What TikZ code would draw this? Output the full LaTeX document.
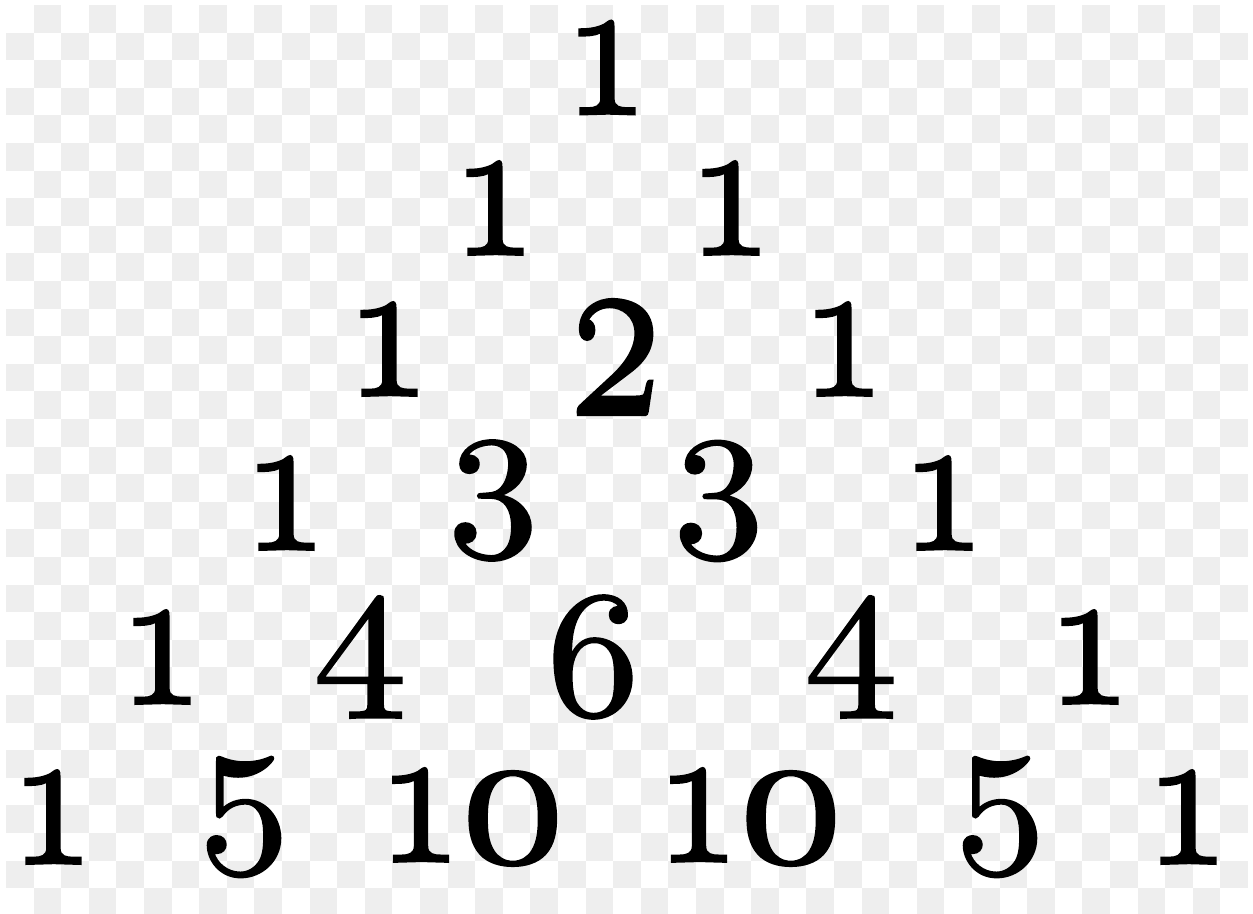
\documentclass[tikz,border=0pt]{standalone}
\usepackage{graphicx}
\usepackage{fontspec}
\setmainfont{lmroman10-regular.otf}[Numbers=OldStyle,FakeBold=1.1]
\definecolor{chk}{RGB}{238,238,238}
\newcommand{\dgone}{\scalebox{0.8}[0.95]{1}}
\newcommand{\dgtwo}{\scalebox{0.88}[1.17]{2}}
\newcommand{\dgthree}{\scalebox{0.87}[0.84]{3}}
\newcommand{\dgfour}{\scalebox{0.9}[0.86]{4}}
\newcommand{\dgfive}{\scalebox{0.87}[0.84]{5}}
\newcommand{\dgsix}{\scalebox{0.89}[0.86]{6}}
\newcommand{\dgten}{\scalebox{0.8}[0.95]{1}\scalebox{0.98}[0.92]{0}}
\begin{document}
\begin{tikzpicture}[x=0.02cm,y=-0.02cm,
  num/.style={inner sep=0pt, outer sep=0pt, font=\fontsize{119}{119}\selectfont\bfseries}]
\useasboundingbox (0,0) rectangle (1253,913);
\fill[white] (0,0) rectangle (1253,913);
\begin{scope}
\clip (0,0) rectangle (1253,913);
\foreach \i in {0,...,44}{
  \foreach \j in {0,...,32}{
    \pgfmathtruncatemacro{\chkpar}{mod(\i+\j,2)}
    \ifnum\chkpar=1
      \fill[chk] ({6+27.6*\i},{5+27.6*\j}) rectangle ++(27.6,27.6);
    \fi
  }
}
\end{scope}
% row 1
\node[num] (a1) at (607,67.5) {\dgone};
% row 2
\node[num] (b1) at (495,208) {\dgone};
\node[num] (b2) at (731,208) {\dgone};
% row 3
\node[num] (c1) at (389,349) {\dgone};
\node[num] (c2) at (615,357) {\dgtwo};
\node[num] (c3) at (844,349) {\dgone};
% row 4
\node[num] (d1) at (286,503) {\dgone};
\node[num] (d2) at (493,500.5) {\dgthree};
\node[num] (d3) at (718.5,501) {\dgthree};
\node[num] (d4) at (944,503) {\dgone};
% row 5
\node[num] (e1) at (162,657) {\dgone};
\node[num] (e2) at (360,657) {\dgfour};
\node[num] (e3) at (593,657) {\dgsix};
\node[num] (e4) at (851,657) {\dgfour};
\node[num] (e5) at (1090,657) {\dgone};
% row 6
\node[num] (f1) at (53,817) {\dgone};
\node[num] (f2) at (244,817) {\dgfive};
\node[num] (f3) at (479,817) {\dgten};
\node[num] (f4) at (757,817) {\dgten};
\node[num] (f5) at (1000,817) {\dgfive};
\node[num] (f6) at (1188,817) {\dgone};
\end{tikzpicture}
\end{document}
